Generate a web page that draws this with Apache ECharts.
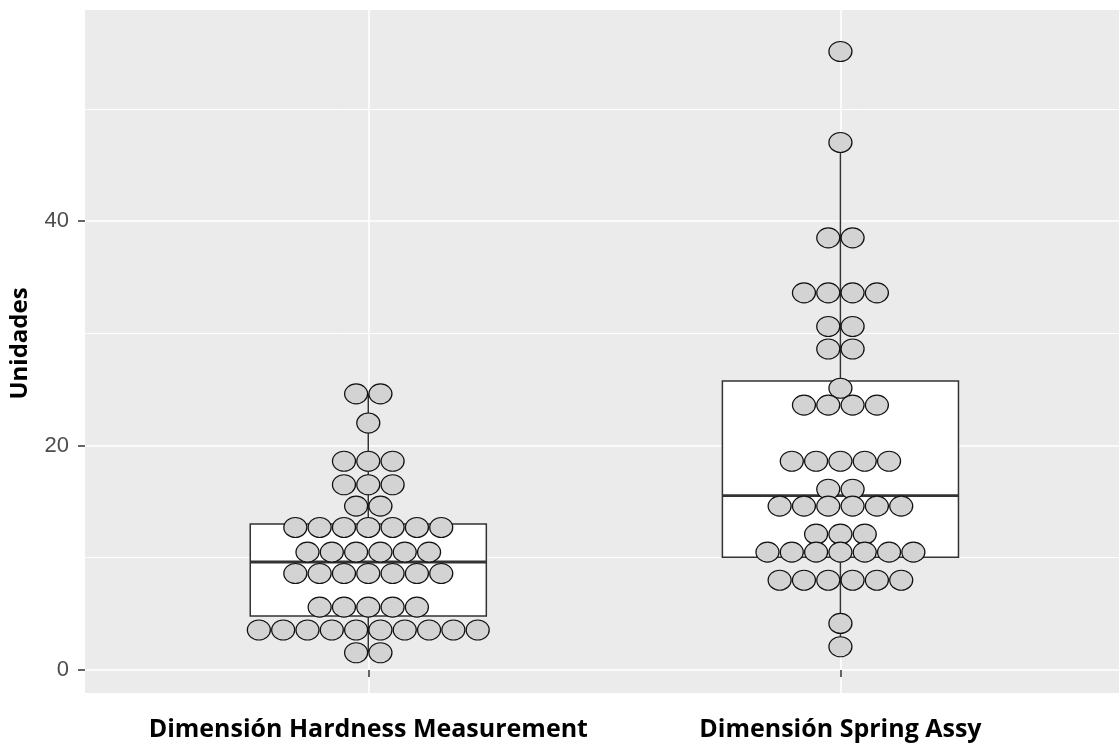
<!DOCTYPE html>
<html>
<head>
<meta charset="utf-8">
<script src="https://cdn.jsdelivr.net/npm/echarts@6/dist/echarts.min.js"></script>
<style>
  html, body { margin: 0; padding: 0; background: #ffffff; }
  #chart { width: 1119px; height: 744px; }
</style>
</head>
<body>
<div id="chart"></div>
<script>
// ---- data ----
const categories = ['Dimensión Hardness Measurement', 'Dimensión Spring Assy'];

// dot-plot bins (value of each stacked row) and how many dots are in each row
const hardnessBins   = [24.6, 22.0, 18.6, 16.5, 14.6, 12.7, 10.5, 8.6, 5.6, 3.56, 1.54];
const hardnessCounts = [2, 1, 3, 3, 2, 7, 6, 7, 5, 10, 2];
const springBins     = [55.1, 47.0, 38.5, 33.6, 30.6, 28.6, 25.1, 23.6, 18.6, 16.1, 14.6, 12.1, 10.5, 8.0, 4.15, 2.07];
const springCounts   = [1, 1, 2, 4, 2, 2, 1, 4, 5, 2, 6, 3, 7, 6, 1, 1];

// box statistics: [lower whisker, Q1, median, Q3, upper whisker]
const hardnessBox = [1.54, 4.81, 9.62, 13.0, 24.6];
const springBox   = [2.07, 10.04, 15.53, 25.75, 47.0];

const yMajorTicks = [0, 20, 40];
const yMinorTicks = [10, 30, 50];
const xTicks = [1, 2];

// ---- layout constants ----
const X_MIN = 0.4, X_MAX = 2.59;
const Y_MIN = -2.05, Y_MAX = 58.8;
const DOT_STEP = 0.0515;   // horizontal stacking step in x-axis units
const BOX_HALF = 0.25;     // half box width in x-axis units

function buildDots(groupPos, bins, counts) {
  const pts = [];
  bins.forEach((v, r) => {
    const n = counts[r];
    for (let i = 0; i < n; i++) {
      pts.push([groupPos + (i - (n - 1) / 2) * DOT_STEP, v]);
    }
  });
  return pts;
}

const dotData = buildDots(1, hardnessBins, hardnessCounts)
  .concat(buildDots(2, springBins, springCounts));
const boxData = [[1].concat(hardnessBox), [2].concat(springBox)];

const chart = echarts.init(document.getElementById('chart'), null, { renderer: 'canvas' });

const option = {
  backgroundColor: '#ffffff',
  animation: false,
  grid: {
    left: 85, right: 0, top: 10, bottom: 51,
    outerBoundsMode: 'none',
    containLabel: false,
    show: true, backgroundColor: '#EBEBEB', borderWidth: 0
  },
  xAxis: {
    type: 'value', min: X_MIN, max: X_MAX,
    axisLine: { show: false },
    axisTick: { show: true, customValues: xTicks, length: 7, lineStyle: { color: '#333333', width: 1.5 } },
    axisLabel: {
      show: true, customValues: xTicks, margin: 24,
      formatter: v => categories[Math.round(v) - 1] || '',
      color: '#000000', fontFamily: 'Open Sans', fontWeight: 'bold', fontSize: 25
    },
    splitLine: { show: true, lineStyle: { color: '#ffffff', width: 1.6 } }
  },
  yAxis: [
    {
      type: 'value', min: Y_MIN, max: Y_MAX,
      name: 'Unidades', nameLocation: 'middle', nameGap: 53, nameRotate: 90,
      nameTextStyle: { color: '#000000', fontFamily: 'Open Sans', fontWeight: 'bold', fontSize: 24, padding: [0, 0, 0, 16] },
      axisLine: { show: false },
      axisTick: { show: true, customValues: yMajorTicks, length: 7, lineStyle: { color: '#333333', width: 1.5 } },
      axisLabel: { show: true, customValues: yMajorTicks, margin: 16, color: '#4D4D4D', fontFamily: 'Liberation Sans', fontSize: 22 },
      splitLine: { show: true, lineStyle: { color: '#ffffff', width: 1.6 } }
    },
    {
      type: 'value', min: Y_MIN, max: Y_MAX, position: 'left',
      axisLine: { show: false },
      axisTick: { show: false, customValues: yMinorTicks },
      axisLabel: { show: false, customValues: yMinorTicks },
      splitLine: { show: true, lineStyle: { color: '#ffffff', width: 1.0 } }
    }
  ],
  series: [
    {
      type: 'custom',
      z: 2,
      data: boxData,
      encode: { x: 0, y: [1, 2, 3, 4, 5] },
      renderItem: function (params, api) {
        const x = api.value(0);
        const lo = api.value(1), q1 = api.value(2), med = api.value(3), q3 = api.value(4), hi = api.value(5);
        const pc = api.coord([x, q3]);
        const pHi = api.coord([x, hi]);
        const pQ1 = api.coord([x, q1]);
        const pLo = api.coord([x, lo]);
        const tl = api.coord([x - BOX_HALF, q3]);
        const br = api.coord([x + BOX_HALF, q1]);
        const mL = api.coord([x - BOX_HALF, med]);
        const mR = api.coord([x + BOX_HALF, med]);
        const stroke = { stroke: '#333333', lineWidth: 1.5 };
        return {
          type: 'group',
          children: [
            { type: 'line', shape: { x1: pc[0], y1: pc[1], x2: pHi[0], y2: pHi[1] }, style: stroke },
            { type: 'line', shape: { x1: pQ1[0], y1: pQ1[1], x2: pLo[0], y2: pLo[1] }, style: stroke },
            { type: 'rect', shape: { x: tl[0], y: tl[1], width: br[0] - tl[0], height: br[1] - tl[1] },
              style: { fill: '#ffffff', stroke: '#333333', lineWidth: 1.5 } },
            { type: 'line', shape: { x1: mL[0], y1: mL[1], x2: mR[0], y2: mR[1] },
              style: { stroke: '#333333', lineWidth: 2.8 } }
          ]
        };
      }
    },
    {
      type: 'scatter',
      z: 3,
      data: dotData,
      symbol: 'circle',
      symbolSize: [23, 20],
      itemStyle: { color: '#D3D3D3', borderColor: '#111111', borderWidth: 1.2, opacity: 1 },
      emphasis: { disabled: true }
    }
  ]
};

chart.setOption(option);
</script>
</body>
</html>
